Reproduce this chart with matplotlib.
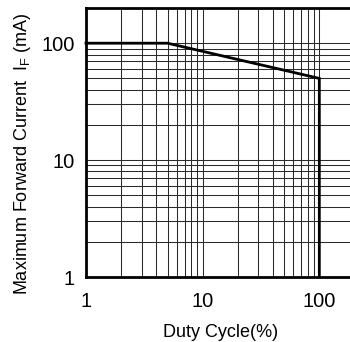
import numpy as np
from matplotlib.pyplot import *

#########################################
#DATA
#########################################
duty=[1,5,100,100]
current=[100,100,50,1]

xticks_major=[1,10,100]
yticks_major=[1,10,100]
xtick_labels=["1","10","100"]
ytick_labels=["1","10","100"]
grid_minor=[2,3,4,5,6,7,8,9,20,30,40,50,60,70,80,90]

#########################################
#FIGURE
#########################################
rcParams['font.family']=['Liberation Sans','DejaVu Sans']
rcParams['mathtext.fontset']='custom'
rcParams['mathtext.rm']='Liberation Sans'

fig=figure(figsize=(3.5,3.42),dpi=100)
ax=fig.add_axes([0.2457,0.19,0.767,0.7866])
ax.set_xscale('log')
ax.set_yscale('log')
ax.set_xlim(1,200)
ax.set_ylim(1,200)

#########################################
#GRID
#########################################
ax.set_xticks(xticks_major)
ax.set_xticklabels(xtick_labels)
ax.set_yticks(yticks_major)
ax.set_yticklabels(ytick_labels)
ax.set_xticks(grid_minor,minor=True)
ax.set_yticks(grid_minor,minor=True)
ax.tick_params(which='both',length=0)
ax.tick_params(axis='x',which='minor',labelbottom=False)
ax.tick_params(axis='y',which='minor',labelleft=False)
ax.tick_params(axis='x',pad=11,labelsize=14.5)
ax.tick_params(axis='y',pad=8,labelsize=14.5)
ax.grid(which='both',color='#2a2a2a',linewidth=0.75)
ax.set_axisbelow(True)

for side in ['left','bottom','top']:
    ax.spines[side].set_linewidth(2.0)
ax.spines['right'].set_visible(False)

#########################################
#CURVE
#########################################
ax.plot(duty,current,color='k',linewidth=2.0,solid_joinstyle='miter',clip_on=False)

#########################################
#LABELS
#########################################
ax.set_xlabel("Duty Cycle(%)",fontsize=13,labelpad=9)
ax.set_ylabel(r"Maximum Forward Current  I$_{\mathregular{F}}$ (mA)",fontsize=13)
ax.yaxis.set_label_coords(-0.196,0.459)

savefig("out.png",dpi=100)
